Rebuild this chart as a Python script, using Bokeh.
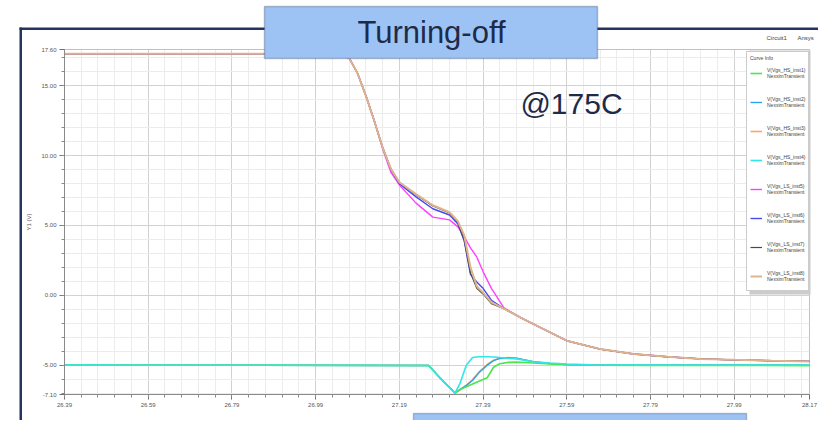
from bokeh.plotting import figure
from bokeh.models import (Range1d, FixedTicker, PrintfTickFormatter, BoxAnnotation,
                          Label, Legend, LegendItem)
from bokeh.embed import file_html
from bokeh.resources import INLINE

# ---------------- data ----------------
t_ls = [26.39, 27.00, 27.04, 27.07, 27.09, 27.11, 27.13, 27.15, 27.17, 27.19, 27.23, 27.27,
        27.31, 27.33, 27.345, 27.36, 27.375, 27.39, 27.41, 27.44, 27.48, 27.52, 27.59, 27.67,
        27.75, 27.83, 27.91, 27.99, 28.08, 28.17]
v_ls5 = [17.30, 17.30, 17.22, 17.00, 15.90, 14.30, 12.50, 10.50, 8.80, 7.90, 6.60, 5.60,
         5.40, 4.90, 4.20, 3.40, 2.75, 1.70, 0.50, -0.90, -1.60, -2.20, -3.25, -3.85,
         -4.20, -4.40, -4.55, -4.62, -4.68, -4.73]
v_ls6 = [17.30, 17.30, 17.22, 17.00, 15.90, 14.30, 12.50, 10.60, 9.00, 8.00, 7.05, 6.20,
         5.75, 5.10, 3.90, 1.50, 0.95, 0.50, -0.35, -0.95, -1.60, -2.20, -3.25, -3.85,
         -4.20, -4.40, -4.55, -4.62, -4.68, -4.73]
v_ls7 = [17.30, 17.30, 17.22, 17.00, 15.90, 14.30, 12.50, 10.60, 9.05, 8.10, 7.20, 6.40,
         5.90, 5.20, 3.95, 1.60, 0.50, 0.10, -0.60, -0.95, -1.60, -2.20, -3.25, -3.85,
         -4.20, -4.40, -4.55, -4.62, -4.68, -4.73]
v_ls8 = [17.30, 17.30, 17.22, 17.00, 15.90, 14.30, 12.50, 10.60, 9.05, 8.10, 7.25, 6.45,
         5.95, 5.30, 4.30, 2.00, 0.65, 0.20, -0.50, -0.95, -1.60, -2.20, -3.25, -3.85,
         -4.20, -4.40, -4.55, -4.62, -4.68, -4.73]

t_hs = [26.39, 27.26, 27.27, 27.29, 27.31, 27.323, 27.335, 27.35, 27.365, 27.38, 27.40,
        27.415, 27.43, 27.45, 27.47, 27.51, 27.55, 27.59, 27.65, 27.80, 28.17]
v_hs1 = [-5.00, -5.02, -5.35, -6.00, -6.60, -7.00, -6.75, -6.55, -6.35, -6.15, -5.90,
         -5.15, -4.90, -4.80, -4.78, -4.85, -4.92, -4.97, -5.00, -5.02, -5.03]
v_hs2 = [-5.00, -5.02, -5.35, -6.00, -6.60, -7.00, -6.75, -6.45, -6.08, -5.55, -5.00,
         -4.68, -4.52, -4.46, -4.50, -4.75, -4.88, -4.95, -4.99, -5.00, -5.00]
v_hs3 = [-5.00, -5.02, -5.35, -6.00, -6.60, -7.00, -6.75, -6.45, -6.05, -5.50, -4.95,
         -4.65, -4.50, -4.45, -4.50, -4.75, -4.88, -4.95, -4.99, -5.00, -5.00]
v_hs4 = [-5.00, -5.02, -5.35, -6.00, -6.60, -7.00, -6.30, -5.00, -4.45, -4.40, -4.40,
         -4.42, -4.45, -4.50, -4.55, -4.75, -4.85, -4.92, -4.97, -5.00, -5.00]

names = ["V(Vgs_HS_inst1)", "V(Vgs_HS_inst2)", "V(Vgs_HS_inst3)", "V(Vgs_HS_inst4)",
         "V(Vgs_LS_inst5)", "V(Vgs_LS_inst6)", "V(Vgs_LS_inst7)", "V(Vgs_LS_inst8)"]
source_name = "NexximTransient"

x_lo, x_hi = 26.39, 28.17
y_lo, y_hi = -7.10, 17.60
x_major = [26.39, 26.59, 26.79, 26.99, 27.19, 27.39, 27.59, 27.79, 27.99, 28.17]
y_major = [-7.10, -5.00, 0.00, 5.00, 10.00, 15.00, 17.60]
x_minor = [round(26.39 + 0.04 * i, 2) for i in range(45)]
y_minor = list(range(-7, 18))

title_text = "Turning-off"
temp_text = "@175C"

# ---------------- layout / styling ----------------
colors = ["#4CE64C", "#22A6F2", "#F7A85E", "#2EE8E8",
          "#FF40FF", "#4848F0", "#4A4A4A", "#DDB48C"]
NAVY = "#23355F"
BOXFILL = "#9DC3F5"
FONT = "Liberation Sans"

W, H = 818, 420
PL, PR, PT, PB = 64, 809, 49, 394   # plot-area position on the canvas (px)
kx = (PR - PL) / (x_hi - x_lo)
ky = (PB - PT) / (y_hi - y_lo)
x_range = Range1d(x_lo - PL / kx, x_hi + (W - PR) / kx)
y_range = Range1d(y_lo - (H - PB) / ky, y_hi + PT / ky)


def sx(px):
    return px


def sy(py):
    return H - py


p = figure(width=W, height=H, x_range=x_range, y_range=y_range, title=None,
           output_backend="svg", toolbar_location=None,
           min_border_left=0, min_border_right=0, min_border_top=0, min_border_bottom=0)
p.background_fill_color = "white"
p.border_fill_color = "white"
p.outline_line_color = None

xt = FixedTicker(ticks=x_major, minor_ticks=x_minor)
yt = FixedTicker(ticks=y_major, minor_ticks=y_minor)
p.xaxis.ticker = xt
p.yaxis.ticker = yt
p.xaxis.fixed_location = y_lo
p.yaxis.fixed_location = x_lo
p.xaxis.bounds = (x_lo, x_hi)
p.yaxis.bounds = (y_lo, y_hi)
p.xgrid.ticker = xt
p.ygrid.ticker = yt
p.xgrid.bounds = (x_lo, x_hi)
p.xgrid.cross_bounds = (y_lo, y_hi)
p.ygrid.bounds = (y_lo, y_hi)
p.ygrid.cross_bounds = (x_lo, x_hi)
for g in (p.xgrid, p.ygrid):
    g.grid_line_color = "#d2d2d2"
    g.minor_grid_line_color = "#ececec"
    g.grid_line_width = 1

for ax in (p.xaxis, p.yaxis):
    ax.formatter = PrintfTickFormatter(format="%.2f")
    ax.axis_line_color = "#8a8a8a"
    ax.major_tick_line_color = "#707070"
    ax.minor_tick_line_color = "#8a8a8a"
    ax.major_tick_out = 5
    ax.major_tick_in = 0
    ax.minor_tick_out = 3
    ax.minor_tick_in = 0
    ax.major_label_text_font_size = "6px"
    ax.major_label_text_font = FONT
    ax.major_label_text_color = "#555555"
    ax.major_label_standoff = 3
p.yaxis.axis_label = "Y1 (V)"
p.yaxis.axis_label_text_font_size = "6px"
p.yaxis.axis_label_text_font_style = "normal"
p.yaxis.axis_label_text_font = FONT
p.yaxis.axis_label_text_color = "#555555"
p.yaxis.axis_label_standoff = 6

# plot-area outline (top / right border of the chart)
p.add_layout(BoxAnnotation(left=x_lo, right=x_hi, bottom=y_lo, top=y_hi,
                           fill_color=None, line_color="#9a9a9a", line_width=1,
                           level="underlay"))

# ---------------- curves ----------------
r = {}
r[2] = p.line(t_hs, v_hs3, line_color=colors[2], line_width=1.6)
r[1] = p.line(t_hs, v_hs2, line_color=colors[1], line_width=1.4)
r[0] = p.line(t_hs, v_hs1, line_color=colors[0], line_width=1.6)
r[3] = p.line(t_hs, v_hs4, line_color=colors[3], line_width=1.6)
r[4] = p.line(t_ls, v_ls5, line_color=colors[4], line_width=1.4)
r[5] = p.line(t_ls, v_ls6, line_color=colors[5], line_width=1.4)
r[6] = p.line(t_ls, v_ls7, line_color=colors[6], line_width=1.2)
r[7] = p.line(t_ls, v_ls8, line_color=colors[7], line_width=2.0)


# ---------------- slide decorations ----------------
def screen_box(l, rgt, t, b, **kw):
    return BoxAnnotation(left=sx(l), right=sx(rgt), top=sy(t), bottom=sy(b),
                         left_units="screen", right_units="screen", top_units="screen",
                         bottom_units="screen", **kw)


# legend drop shadow (drawn before the legend so it sits underneath)
p.add_layout(screen_box(749, 810, 50, 294, fill_color="#cccccc", fill_alpha=1, line_alpha=0))

items = [LegendItem(label=names[i] + "\n" + source_name, renderers=[r[i]]) for i in range(8)]
legend = Legend(items=items, location=(746, sy(291)), title="Curve Info",
                label_text_font_size="5px", label_text_font=FONT, label_text_color="#444444",
                title_text_font_size="5px", title_text_font=FONT, title_text_color="#444444",
                title_text_font_style="normal", title_standoff=1,
                glyph_width=12, glyph_height=6, label_height=22, label_standoff=5,
                spacing=7, padding=3, margin=0,
                border_line_color="#9a9a9a", background_fill_color="white",
                background_fill_alpha=1.0)
p.add_layout(legend)

p.add_layout(screen_box(19, 21.5, 27, 440, fill_color=NAVY, fill_alpha=1, line_alpha=0))
p.add_layout(screen_box(19, 830, 27, 29.5, fill_color=NAVY, fill_alpha=1, line_alpha=0))
p.add_layout(screen_box(264, 597, 6, 58, fill_color=BOXFILL, fill_alpha=1,
                        line_color=NAVY, line_width=1.5, level="overlay"))
p.add_layout(screen_box(413, 746, 413, 440, fill_color=BOXFILL, fill_alpha=1,
                        line_color=NAVY, line_width=1.5, level="overlay"))
p.add_layout(Label(x=sx(431), y=sy(32), x_units="screen", y_units="screen", text=title_text,
                   text_font=FONT, text_font_size="31px", text_color="#1E2B48",
                   text_align="center", text_baseline="middle", level="overlay"))
p.add_layout(Label(x=sx(571), y=sy(103), x_units="screen", y_units="screen", text=temp_text,
                   text_font=FONT, text_font_size="30px", text_color="#1E2B48",
                   text_align="center", text_baseline="middle"))
p.add_layout(Label(x=sx(766), y=sy(37), x_units="screen", y_units="screen", text="Circuit1",
                   text_font=FONT, text_font_size="6px", text_color="#444444",
                   text_align="left", text_baseline="middle"))
p.add_layout(Label(x=sx(797), y=sy(37), x_units="screen", y_units="screen", text="Ansys",
                   text_font=FONT, text_font_size="6px", text_color="#444444",
                   text_align="left", text_baseline="middle"))

open("out.html", "w").write(file_html(p, INLINE))
